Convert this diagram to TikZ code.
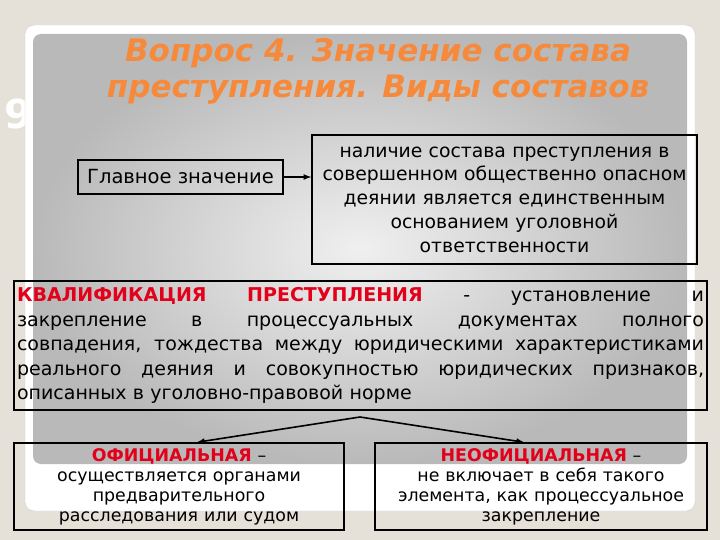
\documentclass[tikz,border=0pt]{standalone}
\usepackage{fontspec}
\setmainfont{DejaVu Sans}
\usepackage{xcolor}
\definecolor{beige}{RGB}{230,225,216}
\definecolor{zagol}{RGB}{247,137,58}
\definecolor{krasn}{RGB}{226,0,26}
\definecolor{ramka}{RGB}{205,205,200}
\usetikzlibrary{calc,arrows}
\newcommand{\krasnyj}[1]{{\bfseries\color{krasn}#1}}
\newcommand{\stroka}[1]{\makebox[687pt][s]{\spaceskip=.3333em plus 10em\relax\xspaceskip=.3333em plus 10em\relax #1}}

\begin{document}
\begin{tikzpicture}[x=1pt,y=-1pt,
    ramkabox/.style={draw=black, line width=1.5pt, inner sep=3pt},
    box/.style={ramkabox, align=center},
    arr/.style={-latex, line width=1.6pt}]
\fill[beige] (0,0) rectangle (720,540);
\useasboundingbox (0,0) rectangle (720,540);
\node[text=white, font=\fontsize{40}{40}\selectfont\bfseries] (nomer) at (18,114) {9};
\filldraw[draw=ramka, fill=white, rounded corners=9pt] (25,25) rectangle (695,511);
\shade[rounded corners=8pt, inner color=gray!12, outer color=gray!55] (33,34) rectangle (687,464);
\node[text=zagol, font=\fontsize{31}{36}\selectfont\bfseries\itshape, align=center] (zag) at (378,71) {Вопрос 4. Значение состава\\преступления. Виды составов};
\node[box, minimum width=205pt, minimum height=34pt, font=\fontsize{19.5}{22}\selectfont] (glav) at (180.5,177) {Главное значение};
\node[box, text width=379pt, minimum height=129pt, font=\fontsize{18.8}{23.7}\selectfont] (osn) at (504.5,199.5) {наличие состава преступления в\\совершенном общественно опасном\\деянии является единственным\\основанием уголовной\\ответственности};
\node[ramkabox, text width=687pt, align=left, minimum height=129pt, font=\fontsize{19}{24.5}\selectfont] (kval) at (360.5,345.5) {\stroka{\krasnyj{КВАЛИФИКАЦИЯ ПРЕСТУПЛЕНИЯ} - установление и}\\\stroka{закрепление в процессуальных документах полного}\\\stroka{совпадения, тождества между юридическими характеристиками}\\\stroka{реального деяния и совокупностью юридических признаков,}\\описанных в уголовно-правовой норме};
\node[box, text width=324pt, minimum height=87pt, font=\fontsize{17.4}{20}\selectfont] (ofic) at (179,486.5) {\krasnyj{ОФИЦИАЛЬНАЯ} –\\осуществляется органами\\предварительного\\расследования или судом};
\node[box, text width=326pt, minimum height=87pt, font=\fontsize{17.4}{20}\selectfont] (neof) at (541,486.5) {\krasnyj{НЕОФИЦИАЛЬНАЯ} –\\не включает в себя такого\\элемента, как процессуальное\\закрепление};
\draw[arr] (glav.east) -- (glav.east -| osn.west);
\coordinate (vilka) at (360,417);
\draw[arr] (vilka) -- ([xshift=18pt]ofic.north);
\draw[arr] (vilka) -- ([xshift=-17pt]neof.north);
\end{tikzpicture}
\end{document}
